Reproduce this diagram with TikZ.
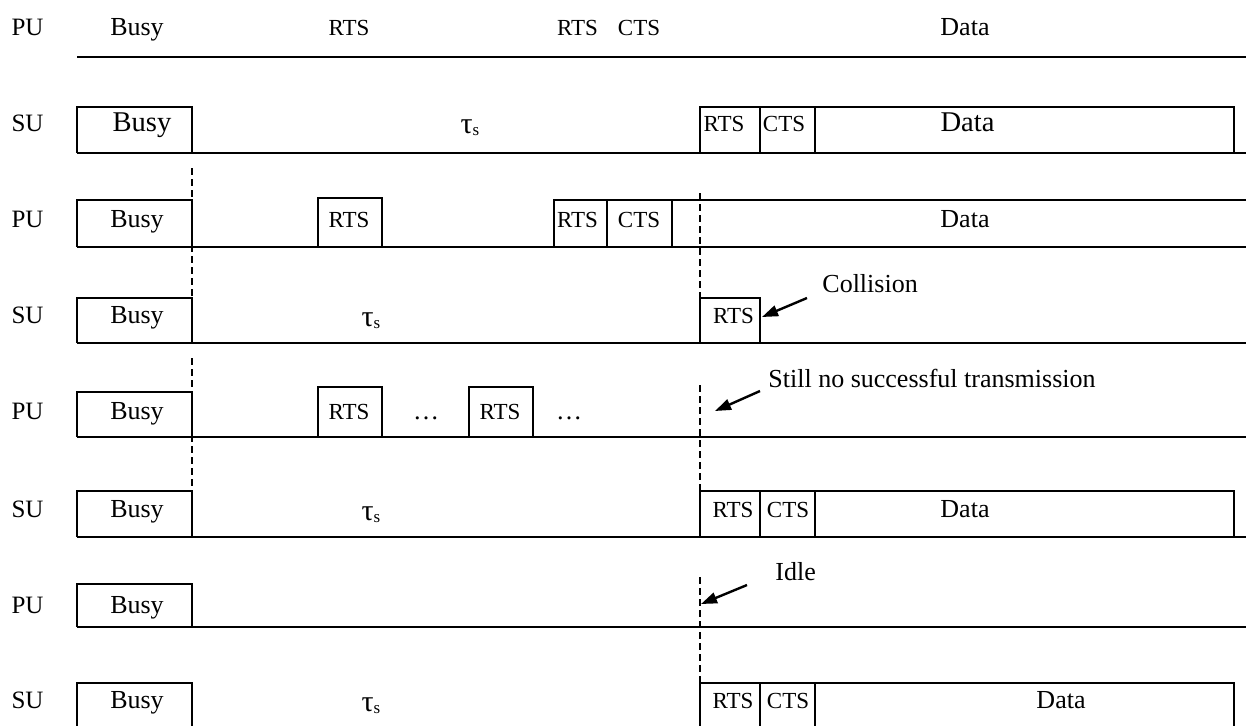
\documentclass[tikz,border=0pt]{standalone}
\usepackage{fontspec}
\setmainfont{Liberation Serif}
\usetikzlibrary{arrows.meta}
\newcommand{\taus}{{\fontsize{15}{16}\selectfont τ}\raisebox{-1pt}{\fontsize{8.5}{9}\selectfont s}}
\begin{document}
\begin{tikzpicture}[x=0.5pt,y=-0.5pt,
  ln/.style={line width=1pt, line join=miter},
  dsh/.style={line width=1pt, dash pattern=on 3.5pt off 2pt},
  lbl/.style={anchor=base, inner sep=0pt, font=\fontsize{12.5}{14}\selectfont},
  txt/.style={anchor=base, inner sep=0pt, font=\fontsize{13}{15}\selectfont},
  bigtxt/.style={anchor=base, inner sep=0pt, font=\fontsize{14.3}{16}\selectfont},
  smltxt/.style={anchor=base, inner sep=0pt, font=\fontsize{11.5}{13}\selectfont},
  note/.style={anchor=base west, inner sep=0pt, font=\fontsize{13}{15}\selectfont},
  arr/.style={line width=1.2pt, -{Triangle[length=8pt,width=5.5pt]}}
]
\useasboundingbox (0,0) rectangle (1246,725);
\clip (0,0) rectangle (1246,725);

% ---------- Row 1 : PU (labels only) ----------
\draw[ln] (77,57) -- (1246,57);
\node[lbl] (l1) at (27.5,35) {PU};
\node[txt] (r1busy) at (137,35) {Busy};
\node[smltxt] (r1rts) at (349,35) {RTS};
\node[smltxt] (r1rts2) at (577.5,35) {RTS};
\node[smltxt] (r1cts) at (639,35) {CTS};
\node[txt] (r1data) at (965,35) {Data};

% ---------- Row 2 : SU ----------
\draw[ln] (77,153) -- (1246,153);
\draw[ln] (77,153) |- (192,107) -- (192,153);
\draw[ln] (700,153) |- (1234,107) -- (1234,153);
\draw[ln] (760,107) -- (760,153);
\draw[ln] (815,107) -- (815,153);
\node[lbl] (l2) at (27.5,131) {SU};
\node[bigtxt] (r2busy) at (142,131) {Busy};
\node[txt] (r2tau) at (470,133) {\taus};
\node[smltxt] (r2rts) at (724,131) {RTS};
\node[smltxt] (r2cts) at (784,131) {CTS};
\node[bigtxt] (r2data) at (967.5,131) {Data};

% ---------- Row 3 : PU ----------
\draw[ln] (77,247) -- (1246,247);
\draw[ln] (77,247) |- (192,200) -- (192,247);
\draw[ln] (318,247) |- (382,198) -- (382,247);
\draw[ln] (554,247) |- (1246,200);
\draw[ln] (607,200) -- (607,247);
\draw[ln] (672,200) -- (672,247);
\node[lbl] (l3) at (27.5,227) {PU};
\node[txt] (r3busy) at (137,227) {Busy};
\node[smltxt] (r3rts) at (349,227) {RTS};
\node[smltxt] (r3rts2) at (577.5,227) {RTS};
\node[smltxt] (r3cts) at (639,227) {CTS};
\node[txt] (r3data) at (965,227) {Data};

% ---------- Row 4 : SU ----------
\draw[ln] (77,343) -- (1246,343);
\draw[ln] (77,343) |- (192,298) -- (192,343);
\draw[ln] (700,343) |- (760,298) -- (760,343);
\node[lbl] (l4) at (27.5,323) {SU};
\node[txt] (r4busy) at (137,323) {Busy};
\node[txt] (r4tau) at (371,326) {\taus};
\node[smltxt] (r4rts) at (733.5,323) {RTS};
\node[note] (coll) at (822,292) {Collision};
\coordinate (collS) at (807,298);
\coordinate (collE) at (762,317);
\draw[arr] (collS) -- (collE);

% ---------- Row 5 : PU ----------
\draw[ln] (77,437) -- (1246,437);
\draw[ln] (77,437) |- (192,392) -- (192,437);
\draw[ln] (318,437) |- (382,387) -- (382,437);
\draw[ln] (469,437) |- (533,387) -- (533,437);
\node[lbl] (l5) at (27.5,419) {PU};
\node[txt] (r5busy) at (137,419) {Busy};
\node[smltxt] (r5rts) at (349,419) {RTS};
\node[smltxt] (r5rts2) at (500,419) {RTS};
\node[txt] (r5dots) at (426,419) {\dots};
\node[txt] (r5dots2) at (569,419) {\dots};
\node[note] (still) at (768,387) {Still no successful transmission};
\coordinate (stillS) at (760,391);
\coordinate (stillE) at (715,411);
\draw[arr] (stillS) -- (stillE);

% ---------- Row 6 : SU ----------
\draw[ln] (77,537) -- (1246,537);
\draw[ln] (77,537) |- (192,491) -- (192,537);
\draw[ln] (700,537) |- (1234,491) -- (1234,537);
\draw[ln] (760,491) -- (760,537);
\draw[ln] (815,491) -- (815,537);
\node[lbl] (l6) at (27.5,517) {SU};
\node[txt] (r6busy) at (137,517) {Busy};
\node[txt] (r6tau) at (371,520) {\taus};
\node[smltxt] (r6rts) at (733,517) {RTS};
\node[smltxt] (r6cts) at (788,517) {CTS};
\node[txt] (r6data) at (965,517) {Data};

% ---------- Row 7 : PU ----------
\draw[ln] (77,627) -- (1246,627);
\draw[ln] (77,627) |- (192,584) -- (192,627);
\node[lbl] (l7) at (27.5,613) {PU};
\node[txt] (r7busy) at (137,613) {Busy};
\node[note] (idle) at (775,580) {Idle};
\coordinate (idleS) at (747,585);
\coordinate (idleE) at (701,604);
\draw[arr] (idleS) -- (idleE);

% ---------- Row 8 : SU ----------
\draw[ln] (77,729) -- (1246,729);
\draw[ln] (77,729) |- (192,683) -- (192,729);
\draw[ln] (700,729) |- (1234,683) -- (1234,729);
\draw[ln] (760,683) -- (760,729);
\draw[ln] (815,683) -- (815,729);
\node[lbl] (l8) at (27.5,708) {SU};
\node[txt] (r8busy) at (137,708) {Busy};
\node[txt] (r8tau) at (371,711) {\taus};
\node[smltxt] (r8rts) at (733,708) {RTS};
\node[smltxt] (r8cts) at (788,708) {CTS};
\node[txt] (r8data) at (1061,708) {Data};

% ---------- dashed markers ----------
\draw[dsh] (192,168) -- (192,343);
\draw[dsh] (192,358) -- (192,491);
\draw[dsh] (700,193) -- (700,298);
\draw[dsh] (700,385) -- (700,491);
\draw[dsh] (700,577) -- (700,683);
\end{tikzpicture}
\end{document}
